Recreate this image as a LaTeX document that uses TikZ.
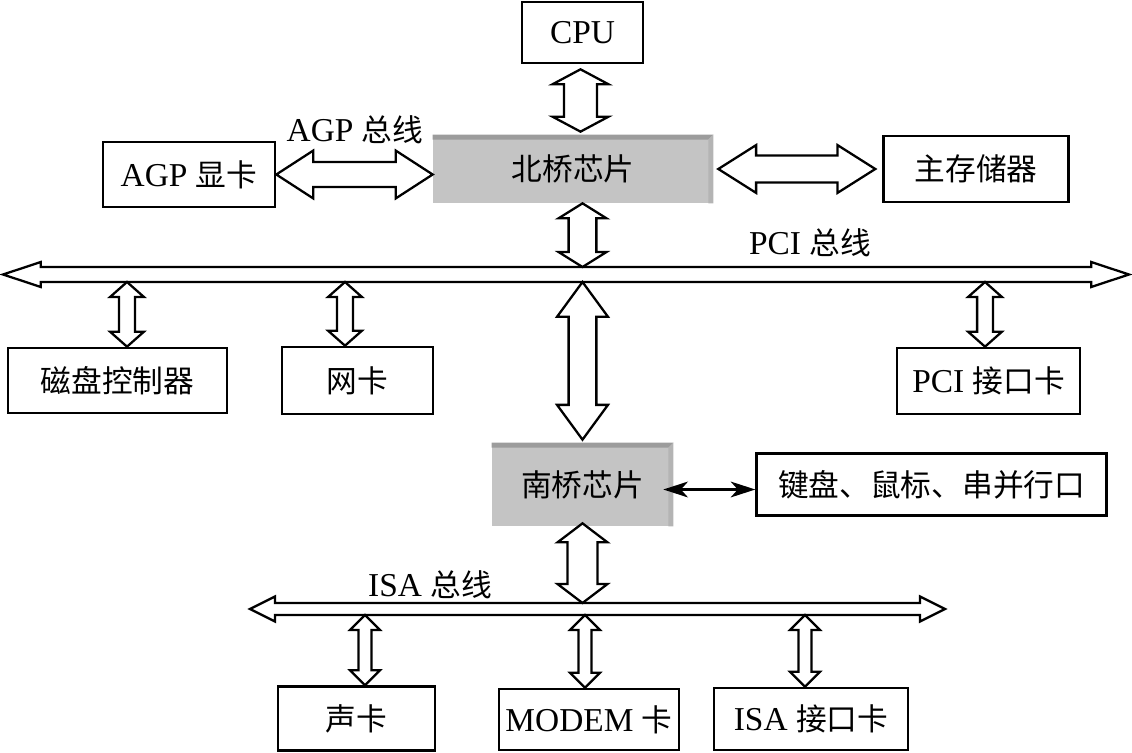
\documentclass[tikz,border=0pt]{standalone}
\usepackage{fontspec}
\setmainfont{Liberation Serif}
\newfontfamily\cjk{Noto Sans CJK SC}[Scale=0.92]
\usetikzlibrary{positioning, arrows.meta, calc}
\definecolor{chipGray}{HTML}{C4C4C4}
\definecolor{chipTop}{HTML}{9C9C9C}
\definecolor{chipSide}{HTML}{B4B4B4}

% hollow double arrows: #1 first end, #2 second end, #3 half shaft, #4 half head, #5 head length
\newcommand{\vbus}[5]{%
  \draw[busline] let \p1=(#1), \p2=(#2) in
    (\x1,\y1) -- (\x1+#4,\y1-#5) -- (\x1+#3,\y1-#5) -- (\x1+#3,\y2+#5)
    -- (\x1+#4,\y2+#5) -- (\x1,\y2) -- (\x1-#4,\y2+#5) -- (\x1-#3,\y2+#5)
    -- (\x1-#3,\y1-#5) -- (\x1-#4,\y1-#5) -- cycle;}
\newcommand{\hbus}[5]{%
  \draw[busline] let \p1=(#1), \p2=(#2) in
    (\x1,\y1) -- (\x1+#5,\y1+#4) -- (\x1+#5,\y1+#3) -- (\x2-#5,\y1+#3)
    -- (\x2-#5,\y1+#4) -- (\x2,\y1) -- (\x2-#5,\y1-#4) -- (\x2-#5,\y1-#3)
    -- (\x1+#5,\y1-#3) -- (\x1+#5,\y1-#4) -- cycle;}

\begin{document}
\begin{tikzpicture}[x=0.02cm, y=-0.02cm, font=\fontsize{19}{22}\selectfont,
    cardbox/.style={draw, line width=1.5pt, inner sep=0pt, align=center},
    chipbox/.style={fill=chipGray, inner sep=0pt},
    busline/.style={line width=1.3pt, fill=white, line join=miter},
    thinlink/.style={line width=1.3pt,
      {Stealth[length=14pt, width=9pt, inset=4pt]}-{Stealth[length=14pt, width=9pt, inset=4pt]}}]
  \useasboundingbox (0,0) rectangle (1132,753);

  % chips
  \node[chipbox, minimum width=5.6cm, minimum height=1.36cm] (nb) at (573,169) {\cjk 北桥芯片};
  \node[chipbox, minimum width=3.62cm, minimum height=1.66cm] (sb) at (582.5,484.5) {\cjk 南桥芯片};
  \foreach \c in {nb,sb} {
    \fill[chipTop] (\c.north west) -- (\c.north east) -- ($(\c.north east)+(-5,5)$)
      -- ($(\c.north west)+(0,5)$) -- cycle;
    \fill[chipSide] ($(\c.north east)+(-5,5)$) -- (\c.north east) -- (\c.south east)
      -- ($(\c.south east)+(-5,0)$) -- cycle;
  }

  % boxes
  \node[cardbox, minimum width=2.42cm, minimum height=1.22cm] (cpu) at (582.5,32.5) {CPU};
  \node[cardbox, minimum width=3.44cm, minimum height=1.3cm] (agp) at (189,174.5) {AGP {\cjk 显卡}};
  \node[cardbox, minimum width=3.7cm, minimum height=1.32cm, right=3.38cm of nb] (mem) {\cjk 主存储器};
  \node[cardbox, minimum width=4.38cm, minimum height=1.3cm] (dsk) at (117.5,380.5) {\cjk 磁盘控制器};
  \node[cardbox, minimum width=3.02cm, minimum height=1.34cm] (net) at (357.5,380.5) {\cjk 网卡};
  \node[cardbox, minimum width=3.66cm, minimum height=1.32cm] (pcic) at (988.5,381) {PCI {\cjk 接口卡}};
  \node[cardbox, minimum width=7cm, minimum height=1.24cm, right=1.64cm of sb] (kbd) {\cjk 键盘、鼠标、串并行口};
  \node[cardbox, minimum width=3.14cm, minimum height=1.28cm] (snd) at (356.5,718.5) {\cjk 声卡};
  \node[cardbox, minimum width=3.6cm, minimum height=1.22cm] (mdm) at (589,719.5) {MODEM {\cjk 卡}};
  \node[cardbox, minimum width=3.88cm, minimum height=1.24cm] (isac) at (811,719) {ISA {\cjk 接口卡}};

  % bus labels
  \node (agpLbl) at (355,130) {AGP {\cjk 总线}};
  \node (pciLbl) at (810,243) {PCI {\cjk 总线}};
  \node (isaLbl) at (430,585) {ISA {\cjk 总线}};

  % buses
  \coordinate (pciL) at (3,274.5);
  \coordinate (pciR) at (1129,274.5);
  \coordinate (pciTop) at (0,267);
  \coordinate (pciBot) at (0,282);
  \coordinate (isaL) at (250,609);
  \coordinate (isaR) at (945,609);
  \coordinate (isaTop) at (0,603);
  \coordinate (isaBot) at (0,615);
  \hbus{pciL}{pciR}{4.25pt}{7.1pt}{21.5pt}
  \hbus{isaL}{isaR}{3.4pt}{7.1pt}{14.2pt}

  % north bridge links
  \vbus{$(cpu.south)+(-2,5)$}{$(nb.north -| cpu)+(-2,-3)$}{9.4pt}{15.9pt}{8.5pt}
  \hbus{agp.east}{agp.east -| nb.west}{7.1pt}{13.6pt}{21pt}
  \hbus{$(nb.east)+(5,0)$}{$(mem.west)+(-7,0)$}{7.7pt}{13.6pt}{21.5pt}
  \vbus{nb.south -| cpu}{pciTop -| cpu}{7.9pt}{13.6pt}{8.5pt}

  % south bridge links
  \vbus{pciBot -| sb}{$(sb.north)+(0,-3)$}{7.9pt}{14.5pt}{19.8pt}
  \vbus{$(sb.south)+(0,-3)$}{isaTop -| sb}{8.5pt}{14.2pt}{10.8pt}
  \draw[thinlink] ($(sb.east)+(-10,5)$) coordinate (kbdFrom) -- (kbdFrom -| kbd.west);

  % cards on the buses
  \coordinate (tapDsk) at (127,282);
  \coordinate (tapNet) at (345,282);
  \coordinate (tapPci) at (985,282);
  \coordinate (tapSnd) at (365,615);
  \coordinate (tapMdm) at (585,615);
  \coordinate (tapIsa) at (805,615);
  \foreach \tap/\card in {tapDsk/dsk, tapNet/net, tapPci/pcic}
    \vbus{\tap}{\tap |- \card.north}{4.5pt}{9.6pt}{8.5pt};
  \foreach \tap/\card in {tapSnd/snd, tapMdm/mdm, tapIsa/isac}
    \vbus{\tap}{\tap |- \card.north}{3.7pt}{8.5pt}{8.5pt};
\end{tikzpicture}
\end{document}
